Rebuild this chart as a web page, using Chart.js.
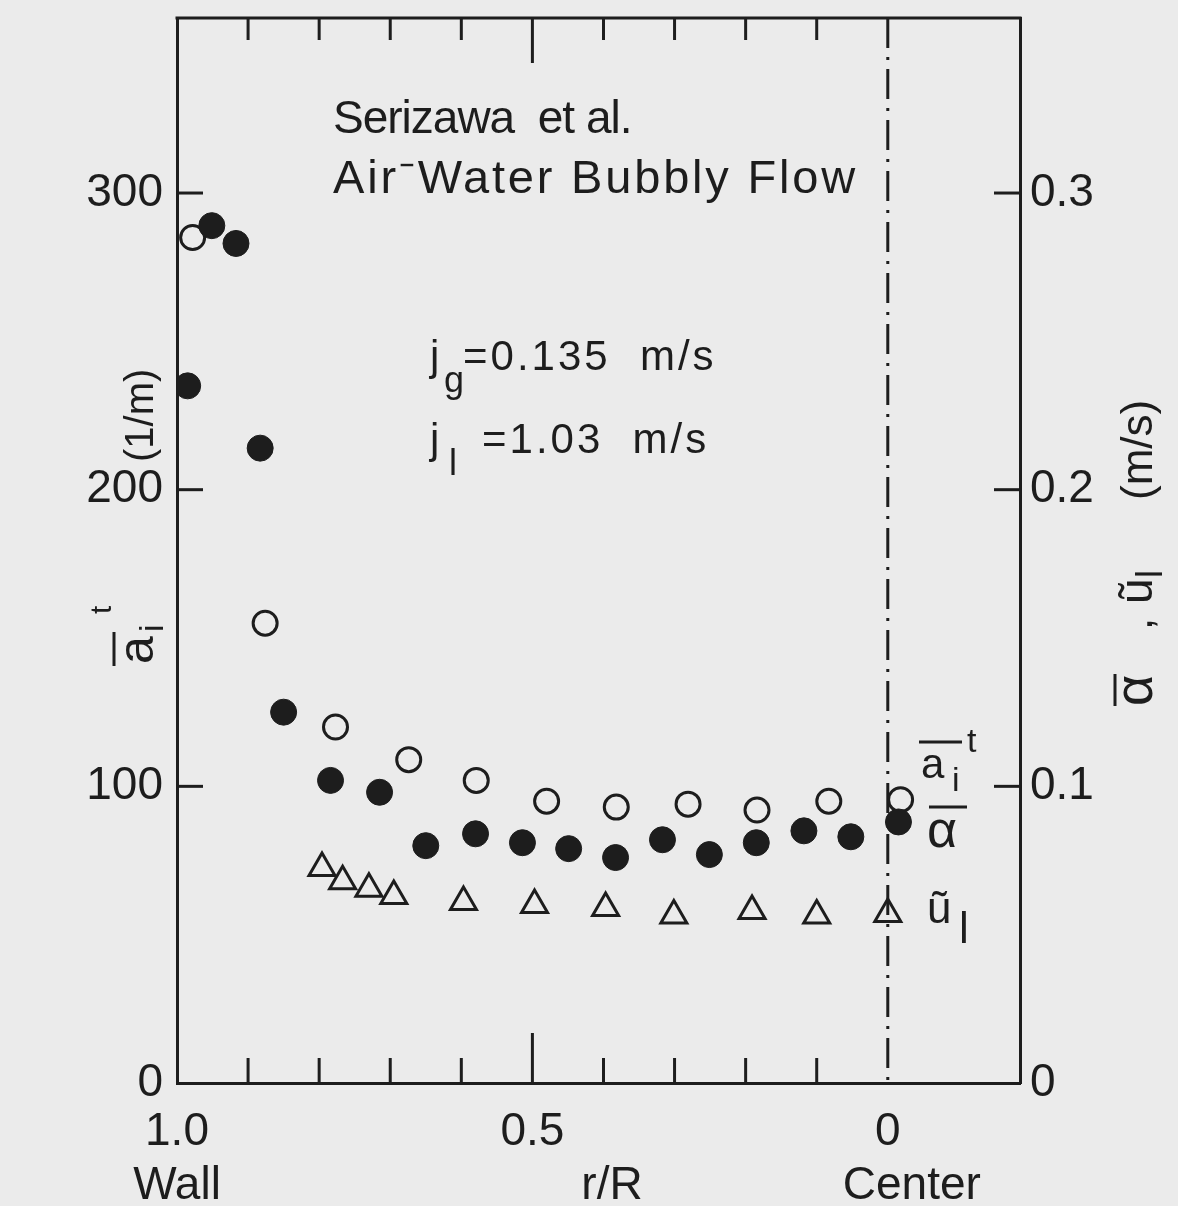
<!DOCTYPE html>
<html>
<head>
  <title>Serizawa et al. - Air-Water Bubbly Flow</title>
  <script src="https://cdn.jsdelivr.net/npm/chart.js"></script>
  <style>
    body { margin: 0; background: #ebebeb; }
    #chart { display: block; }
  </style>
</head>
<body>
  <canvas id="chart" width="1178" height="1206"></canvas>
  <script>
    // void fraction (filled circles, right axis)
    const rVoid = [0.985, 0.951, 0.917, 0.883, 0.850, 0.784, 0.715, 0.650, 0.580, 0.514, 0.449, 0.383, 0.317, 0.251, 0.185, 0.118, 0.052, -0.015];
    const voidFrac = [0.235, 0.289, 0.283, 0.214, 0.125, 0.102, 0.098, 0.080, 0.084, 0.081, 0.079, 0.076, 0.082, 0.077, 0.081, 0.085, 0.083, 0.088];

    // interfacial area concentration (open circles, left axis, 1/m)
    const rArea = [0.978, 0.876, 0.777, 0.674, 0.579, 0.480, 0.382, 0.281, 0.184, 0.083, -0.018];
    const areaConc = [285, 155, 120, 109, 102, 95, 93, 94, 92, 95, 95.5];

    // liquid velocity fluctuation (triangles, right axis, m/s)
    const rVel = [0.796, 0.767, 0.730, 0.695, 0.597, 0.497, 0.397, 0.301, 0.191, 0.100, 0.000];
    const velFluct = [0.0725, 0.068, 0.0655, 0.063, 0.061, 0.060, 0.059, 0.0565, 0.058, 0.0565, 0.057];

    // axes
    const xTickValues = [1.0, 0.5, 0];
    const xTickLabels = ['1.0', '0.5', '0'];
    const xMinorTicks = [0.9, 0.8, 0.7, 0.6, 0.5, 0.4, 0.3, 0.2, 0.1];
    const yTickValues = [0, 100, 200, 300];
    const yTickLabels = ['0', '100', '200', '300'];
    const y2TickValues = [0, 0.1, 0.2, 0.3];
    const y2TickLabels = ['0', '0.1', '0.2', '0.3'];

    const ink = '#1d1d1d';
    const bg = '#ebebeb';
    const fam = '"Liberation Sans", Arial, sans-serif';

    function txt(ctx, s, x, y, size, align) {
      ctx.font = size + 'px ' + fam;
      ctx.textAlign = align || 'left';
      ctx.fillText(s, x, y);
      return ctx.measureText(s).width;
    }
    function line(ctx, x1, y1, x2, y2) {
      ctx.beginPath();
      ctx.moveTo(x1, y1);
      ctx.lineTo(x2, y2);
      ctx.stroke();
    }
    // keep the plot box where the figure has it
    function noPad(s) {
      s.paddingTop = 0;
      s.paddingBottom = 0;
      s.paddingLeft = 0;
      s.paddingRight = 0;
    }

    const decor = {
      id: 'decor',
      beforeDraw(chart) {
        const ctx = chart.ctx;
        ctx.save();
        ctx.fillStyle = bg;
        ctx.fillRect(0, 0, chart.width, chart.height);
        ctx.restore();
      },
      beforeDatasetsDraw(chart) {
        const ctx = chart.ctx;
        const { top, bottom, left, right } = chart.chartArea;
        const xs = chart.scales.x, yl = chart.scales.y, yr = chart.scales.y2;
        ctx.save();
        ctx.strokeStyle = ink;
        ctx.lineWidth = 3;
        // top frame line
        line(ctx, left - 1.5, top, right + 1.5, top);
        // inward ticks on bottom and top
        xMinorTicks.forEach(v => {
          const px = xs.getPixelForValue(v);
          const big = Math.abs(v - 0.5) < 1e-6;
          line(ctx, px, bottom, px, bottom - (big ? 50 : 25));
          line(ctx, px, top, px, top + (big ? 45 : 22));
        });
        yTickValues.slice(1).forEach(v => {
          const py = yl.getPixelForValue(v);
          line(ctx, left, py, left + 26, py);
        });
        y2TickValues.slice(1).forEach(v => {
          const py = yr.getPixelForValue(v);
          line(ctx, right, py, right - 26, py);
        });
        // dash-dot centre line
        const cx = xs.getPixelForValue(0);
        ctx.setLineDash([30, 9, 3, 9]);
        line(ctx, cx, top, cx, bottom);
        ctx.restore();
      },
      afterDraw(chart) {
        const ctx = chart.ctx;
        const xs = chart.scales.x;
        ctx.save();
        ctx.fillStyle = ink;
        ctx.strokeStyle = ink;
        ctx.lineWidth = 3;
        ctx.textBaseline = 'alphabetic';

        // headline
        ctx.letterSpacing = '-1px';
        txt(ctx, 'Serizawa  et al.', 333, 133, 46);
        ctx.letterSpacing = '2.8px';
        txt(ctx, 'Air\u207BWater Bubbly Flow', 333, 193, 47);

        // flow conditions
        ctx.letterSpacing = '0px';
        txt(ctx, 'j', 430, 370, 42);
        txt(ctx, 'g', 444, 392, 36);
        txt(ctx, 'j', 430, 453, 42);
        txt(ctx, 'l', 449, 475, 36);
        ctx.letterSpacing = '3px';
        txt(ctx, '=0.135  m/s', 463, 370, 42);
        txt(ctx, '=1.03  m/s', 482, 453, 42);
        ctx.letterSpacing = '0px';

        // series labels by the centre line
        txt(ctx, 'a', 921, 778, 42);
        line(ctx, 919, 742, 962, 742);
        txt(ctx, 'i', 952, 791, 34);
        txt(ctx, 't', 967, 752, 34);
        txt(ctx, '\u03B1', 927, 847, 52);
        line(ctx, 929, 807, 967, 807);
        txt(ctx, '\u0169', 927, 923, 44);
        txt(ctx, 'l', 959, 943, 44);

        // x axis words
        txt(ctx, 'Wall', xs.getPixelForValue(1.0), 1199, 46, 'center');
        txt(ctx, 'r/R', 612, 1199, 46, 'center');
        txt(ctx, 'Center', xs.getPixelForValue(0) + 24, 1199, 46, 'center');

        // left axis title, rotated
        ctx.save();
        ctx.translate(153, 664);
        ctx.rotate(-Math.PI / 2);
        txt(ctx, 'a', 0, 0, 50);
        line(ctx, -2, -39, 32, -39);
        txt(ctx, 'i', 32, 10, 34);
        txt(ctx, 't', 50, -42, 30);
        txt(ctx, '(1/m)', 202, 0, 40);
        ctx.restore();

        // right axis title, rotated
        ctx.save();
        ctx.translate(1152, 706);
        ctx.rotate(-Math.PI / 2);
        txt(ctx, '\u03B1', 0, 0, 54);
        line(ctx, 0, -37, 32, -37);
        txt(ctx, ',', 76, 0, 44);
        txt(ctx, '\u0169', 102, 0, 46);
        txt(ctx, 'l', 128, 10, 36);
        txt(ctx, '(m/s)', 206, 0, 44);
        ctx.restore();

        ctx.restore();
      }
    };

    const tickFont = { family: fam, size: 46 };

    new Chart(document.getElementById('chart'), {
      type: 'scatter',
      data: {
        datasets: [
          {
            label: 'void fraction',
            yAxisID: 'y2',
            data: rVoid.map((r, i) => ({ x: r, y: voidFrac[i] })),
            pointStyle: 'circle',
            pointRadius: 13,
            backgroundColor: ink,
            borderColor: ink,
            borderWidth: 1
          },
          {
            label: 'interfacial area',
            yAxisID: 'y',
            data: rArea.map((r, i) => ({ x: r, y: areaConc[i] })),
            pointStyle: 'circle',
            pointRadius: 12,
            backgroundColor: bg,
            borderColor: ink,
            borderWidth: 3
          },
          {
            label: 'velocity fluctuation',
            yAxisID: 'y2',
            data: rVel.map((r, i) => ({ x: r, y: velFluct[i] })),
            pointStyle: 'triangle',
            pointRadius: 15,
            backgroundColor: 'rgba(0,0,0,0)',
            borderColor: ink,
            borderWidth: 3
          }
        ]
      },
      options: {
        responsive: false,
        animation: false,
        events: [],
        layout: { padding: { top: 13, left: 0, right: 0, bottom: 0 } },
        plugins: { legend: { display: false }, tooltip: { enabled: false } },
        scales: {
          x: {
            type: 'linear',
            reverse: true,
            min: -0.186,
            max: 1.0,
            grid: { display: false, drawTicks: false },
            border: { display: true, width: 3, color: ink },
            afterBuildTicks: s => { s.ticks = xTickValues.map(v => ({ value: v })); },
            afterFit: s => { s.height = 123; noPad(s); },
            ticks: {
              autoSkip: false,
              maxRotation: 0,
              padding: 22,
              color: ink,
              font: tickFont,
              callback: (v, i) => xTickLabels[i]
            }
          },
          y: {
            position: 'left',
            min: 0,
            max: 359,
            grid: { display: false, drawTicks: false },
            border: { display: true, width: 3, color: ink },
            afterBuildTicks: s => { s.ticks = yTickValues.map(v => ({ value: v })); },
            afterFit: s => { s.width = 177; noPad(s); },
            ticks: {
              padding: 14,
              color: ink,
              font: tickFont,
              callback: (v, i) => yTickLabels[i]
            }
          },
          y2: {
            position: 'right',
            min: 0,
            max: 0.359,
            grid: { display: false, drawTicks: false },
            border: { display: true, width: 3, color: ink },
            afterBuildTicks: s => { s.ticks = y2TickValues.map(v => ({ value: v })); },
            afterFit: s => { s.width = 158; noPad(s); },
            ticks: {
              padding: 10,
              color: ink,
              font: tickFont,
              callback: (v, i) => y2TickLabels[i]
            }
          }
        }
      },
      plugins: [decor]
    });
  </script>
</body>
</html>
